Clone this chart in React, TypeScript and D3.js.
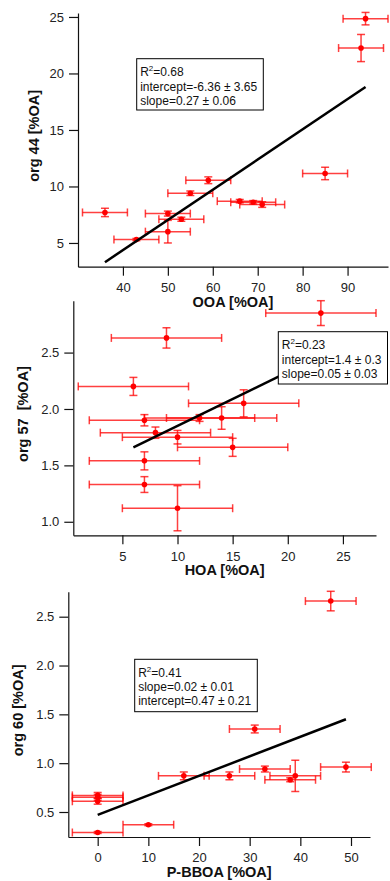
import React, { useEffect, useRef } from "react";
import * as d3 from "d3";

// panel 1: org 44 vs OOA
const ooa = [94, 93, 85, 59, 55, 36, 50, 53, 50, 43, 66, 69, 71];
const ooaErr = [5, 5, 5, 5, 5, 5, 5, 5, 5, 5, 5, 5, 5];
const org44 = [24.85, 22.25, 11.15, 10.55, 9.4, 7.7, 7.6, 7.1, 6.0, 5.3, 8.7, 8.6, 8.4];
const org44Err = [0.55, 1.2, 0.55, 0.3, 0.2, 0.37, 0.22, 0.18, 1.0, 0.1, 0.15, 0.15, 0.25];
const fit44X = [36, 94];
const fit44Y = [3.3, 18.8];
const stats44 = ["0.68", "intercept=-6.36 ± 3.65", "slope=0.27 ± 0.06"];

// panel 2: org 57 vs HOA
const hoa = [23, 9, 6, 16, 7, 12, 14, 8, 10, 15, 7, 7, 10];
const hoaErr = [5, 5, 5, 5, 5, 5, 5, 5, 5, 5, 5, 5, 5];
const org57 = [2.85, 2.63, 2.2, 2.05, 1.9, 1.92, 1.92, 1.79, 1.75, 1.66, 1.54, 1.33, 1.12];
const org57Err = [0.11, 0.09, 0.08, 0.12, 0.05, 0.03, 0.1, 0.05, 0.06, 0.08, 0.08, 0.07, 0.2];
const fit57X = [6, 23];
const fit57Y = [1.66, 2.47];
const stats57 = ["0.23", "intercept=1.4 ± 0.3", "slope=0.05 ± 0.03"];

// panel 3: org 60 vs P-BBOA
const pbboa = [46, 31, 49, 33, 39, 38, 17, 26, 0, 0, 0, 10, 0];
const pbboaErr = [5, 5, 5, 5, 5, 5, 5, 5, 5, 5, 5, 5, 5];
const org60 = [2.66, 1.35, 0.96, 0.94, 0.87, 0.83, 0.87, 0.87, 0.67, 0.65, 0.61, 0.37, 0.29];
const org60Err = [0.1, 0.04, 0.05, 0.03, 0.16, 0.02, 0.04, 0.04, 0.03, 0.03, 0.03, 0.01, 0.01];
const fit60X = [0, 49];
const fit60Y = [0.47, 1.45];
const stats60 = ["0.41", "slope=0.02 ± 0.01", "intercept=0.47 ± 0.21"];

const FONT = "'Liberation Sans', Arial, Helvetica, sans-serif";

const panels = [
  {
    x: ooa, xErr: ooaErr, y: org44, yErr: org44Err, fitX: fit44X, fitY: fit44Y, stats: stats44,
    xTitle: "OOA [%OA]", yTitle: "org 44 [%OA]",
    xDomain: [30, 99], yDomain: [2.9, 25.35],
    xTicks: [40, 50, 60, 70, 80, 90], yTicks: [5, 10, 15, 20, 25], yFmt: "d",
    left: 78, right: 388, top: 13, bottom: 266.7, yTitleX: 38.7,
    box: { x: 136.7, y: 58.7, w: 126.6, h: 51.3 },
  },
  {
    x: hoa, xErr: hoaErr, y: org57, yErr: org57Err, fitX: fit57X, fitY: fit57Y, stats: stats57,
    xTitle: "HOA [%OA]", yTitle: "org 57  [%OA]",
    xDomain: [0.55, 28], yDomain: [0.88, 2.96],
    xTicks: [5, 10, 15, 20, 25], yTicks: [1.0, 1.5, 2.0, 2.5], yFmt: ".1f",
    left: 73.3, right: 376, top: 300.7, bottom: 535.3, yTitleX: 27.7,
    box: { x: 278.3, y: 331.7, w: 109.2, h: 52.3 },
  },
  {
    x: pbboa, xErr: pbboaErr, y: org60, yErr: org60Err, fitX: fit60X, fitY: fit60Y, stats: stats60,
    xTitle: "P-BBOA [%OA]", yTitle: "org 60 [%OA]",
    xDomain: [-5.8, 53.75], yDomain: [0.244, 2.756],
    xTicks: [0, 10, 20, 30, 40, 50], yTicks: [0.5, 1.0, 1.5, 2.0, 2.5], yFmt: ".1f",
    left: 68.3, right: 370, top: 591.7, bottom: 837, yTitleX: 23,
    box: { x: 134.7, y: 659.3, w: 122.6, h: 52.4 },
  },
];

function Panel({ p }: { p: any }) {
  const xRef = useRef<SVGGElement>(null);
  const yRef = useRef<SVGGElement>(null);

  const x = d3.scaleLinear().domain(p.xDomain).range([p.left, p.right]);
  const y = d3.scaleLinear().domain(p.yDomain).range([p.bottom, p.top]);

  useEffect(() => {
    const xa = d3.axisBottom(x).tickValues(p.xTicks).tickFormat(d3.format("d") as any)
      .tickSize(9).tickSizeOuter(0).tickPadding(7);
    const ya = d3.axisLeft(y).tickValues(p.yTicks).tickFormat(d3.format(p.yFmt) as any)
      .tickSize(9).tickSizeOuter(0).tickPadding(5);
    const gx = d3.select(xRef.current!);
    const gy = d3.select(yRef.current!);
    gx.call(xa as any);
    gy.call(ya as any);
    [gx, gy].forEach((g) => {
      g.attr("font-family", FONT).attr("font-size", 13);
      g.selectAll("path, line").attr("stroke", "#111").attr("stroke-width", 1.2);
      g.selectAll("text").attr("fill", "#222");
    });
  }, []);

  const line = d3.line<number>().x((d) => x(d)).y((_, i) => y(p.fitY[i]));
  const cap = 4;
  const b = p.box;
  const midX = (p.left + p.right) / 2;
  const midY = (p.top + p.bottom) / 2 - 4;

  return (
    <g>
      <g ref={xRef} transform={`translate(0,${p.bottom})`} />
      <g ref={yRef} transform={`translate(${p.left},0)`} />
      <g stroke="#ff0000" strokeWidth={1.5} strokeOpacity={0.75} fill="none">
        {p.x.map((xv: number, i: number) => {
          const cx = x(xv);
          const cy = y(p.y[i]);
          const x0 = x(xv - p.xErr[i]);
          const x1 = x(xv + p.xErr[i]);
          const y0 = y(p.y[i] - p.yErr[i]);
          const y1 = y(p.y[i] + p.yErr[i]);
          return (
            <g key={i}>
              <line x1={x0} x2={x1} y1={cy} y2={cy} />
              <line x1={x0} x2={x0} y1={cy - cap} y2={cy + cap} />
              <line x1={x1} x2={x1} y1={cy - cap} y2={cy + cap} />
              <line x1={cx} x2={cx} y1={y0} y2={y1} />
              <line x1={cx - cap} x2={cx + cap} y1={y0} y2={y0} />
              <line x1={cx - cap} x2={cx + cap} y1={y1} y2={y1} />
            </g>
          );
        })}
      </g>
      <g fill="#ff0000">
        {p.x.map((xv: number, i: number) => (
          <circle key={i} cx={x(xv)} cy={y(p.y[i])} r={2.8} />
        ))}
      </g>
      <path d={line(p.fitX) || ""} stroke="#000" strokeWidth={2.5} fill="none" />
      <rect x={b.x} y={b.y} width={b.w} height={b.h} fill="#fff" stroke="#000" strokeWidth={1} />
      <g fontFamily={FONT} fontSize={12} fill="#111">
        <text x={b.x + 3.5} y={b.y + 17.5}>
          R<tspan fontSize={8} dy={-5}>2</tspan>
          <tspan dy={5}>={p.stats[0]}</tspan>
        </text>
        <text x={b.x + 3.5} y={b.y + 31.8}>{p.stats[1]}</text>
        <text x={b.x + 3.5} y={b.y + 46}>{p.stats[2]}</text>
      </g>
      <text x={midX} y={p.bottom + 40} textAnchor="middle" fontFamily={FONT} fontSize={14.5}
        fontWeight="bold" fill="#111">{p.xTitle}</text>
      <text transform={`translate(${p.yTitleX},${midY}) rotate(-90)`} textAnchor="middle"
        fontFamily={FONT} fontSize={14.5} fontWeight="bold" fill="#111"
        style={{ whiteSpace: "pre" }}>{p.yTitle}</text>
    </g>
  );
}

export default function App() {
  return (
    <svg width={390} height={881} style={{ position: "absolute", left: 0, top: 0, background: "#fff" }}>
      {panels.map((p, i) => (
        <Panel key={i} p={p} />
      ))}
    </svg>
  );
}
